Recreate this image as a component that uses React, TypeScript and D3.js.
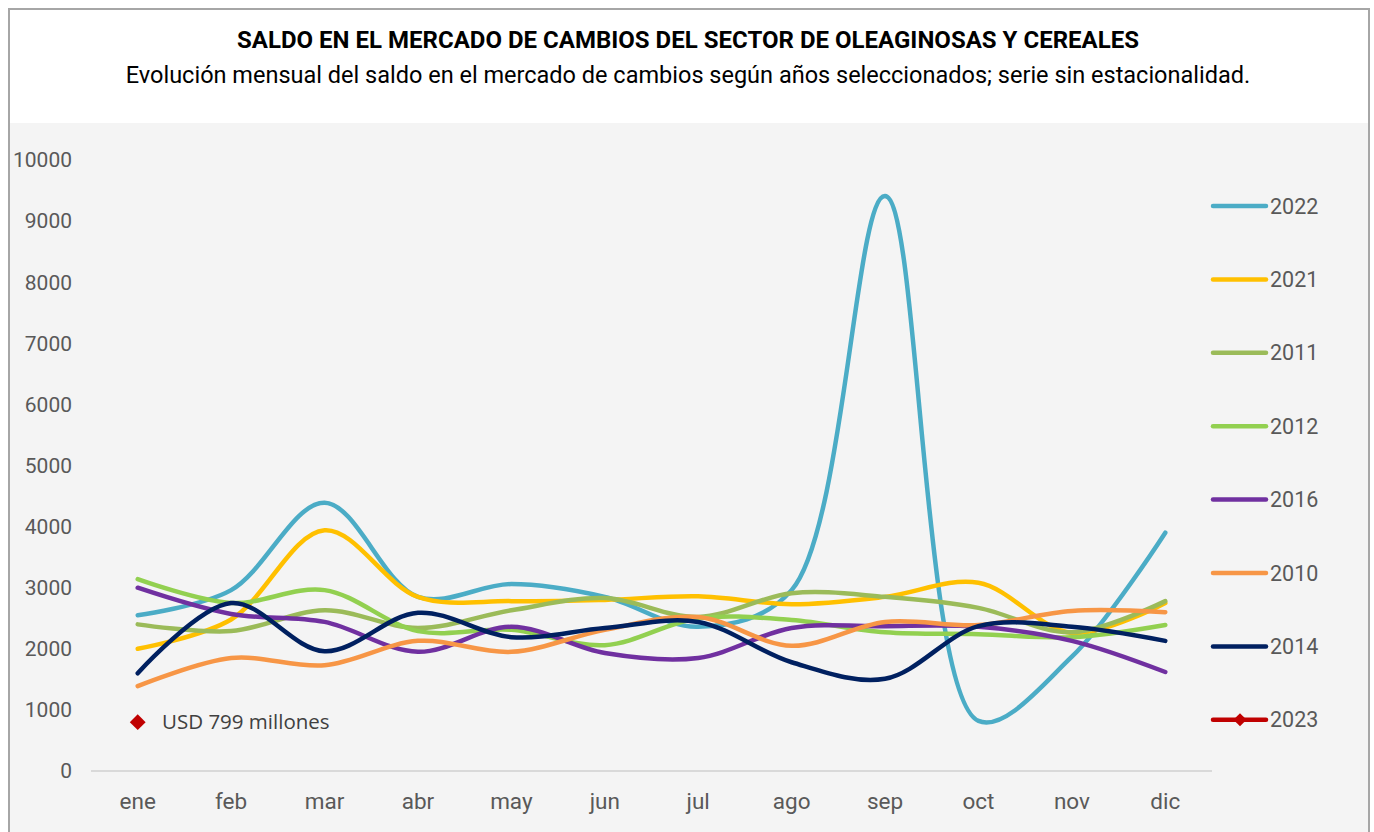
import * as d3 from "d3";
import { useEffect, useRef } from "react";

const W = 1374;
const H = 832;
const months = ["ene", "feb", "mar", "abr", "may", "jun", "jul", "ago", "sep", "oct", "nov", "dic"];
const yTicks = [0, 1000, 2000, 3000, 4000, 5000, 6000, 7000, 8000, 9000, 10000];

// monthly values, USD millones
const s2022 = [2550, 2960, 4390, 2850, 3060, 2850, 2360, 2960, 9410, 820, 1870, 3900];
const s2021 = [2000, 2480, 3940, 2850, 2780, 2800, 2860, 2730, 2850, 3080, 2260, 2750];
const s2011 = [2400, 2290, 2630, 2340, 2630, 2830, 2520, 2910, 2850, 2670, 2270, 2780];
const s2012 = [3140, 2750, 2960, 2290, 2310, 2060, 2500, 2470, 2270, 2240, 2190, 2390];
const s2016 = [3000, 2570, 2440, 1950, 2360, 1930, 1850, 2340, 2370, 2360, 2130, 1620];
const s2010 = [1390, 1850, 1730, 2130, 1950, 2310, 2520, 2050, 2440, 2390, 2620, 2600];
const s2014 = [1600, 2750, 1960, 2590, 2190, 2340, 2440, 1780, 1510, 2370, 2360, 2130];
const s2023 = [799];

const series = [
  { name: "2022", color: "#4bacc6", values: s2022 },
  { name: "2021", color: "#ffc000", values: s2021 },
  { name: "2011", color: "#9bbb59", values: s2011 },
  { name: "2012", color: "#92d050", values: s2012 },
  { name: "2016", color: "#7030a0", values: s2016 },
  { name: "2010", color: "#f79646", values: s2010 },
  { name: "2014", color: "#002060", values: s2014 },
  { name: "2023", color: "#c00000", values: s2023 },
];

const margin = { left: 91, right: 162, top: 160, bottom: 61 };

const App = () => {
  const svgRef = useRef<SVGSVGElement>(null);

  useEffect(() => {
    const svg = d3.select(svgRef.current);
    svg.selectAll("*").remove();
    const font = "Roboto, 'Open Sans', sans-serif";

    // frame
    svg.append("rect").attr("x", 0).attr("y", 0).attr("width", W).attr("height", H).attr("fill", "#ffffff");
    svg.append("rect").attr("x", 10).attr("y", 123).attr("width", 1358).attr("height", H - 123).attr("fill", "#f4f4f4");
    svg.append("path")
      .attr("d", `M9,${H} V9 H1369 V${H}`)
      .attr("fill", "none")
      .attr("stroke", "#a6a6a6")
      .attr("stroke-width", 2);

    svg.append("text")
      .attr("x", 688).attr("y", 48)
      .attr("text-anchor", "middle")
      .attr("font-family", font).attr("font-weight", "bold").attr("font-size", 24)
      .attr("textLength", 902)
      .attr("fill", "#000")
      .text("SALDO EN EL MERCADO DE CAMBIOS DEL SECTOR DE OLEAGINOSAS Y CEREALES");
    svg.append("text")
      .attr("x", 688).attr("y", 83)
      .attr("text-anchor", "middle")
      .attr("font-family", font).attr("font-size", 23.5)
      .attr("fill", "#000")
      .text("Evolución mensual del saldo en el mercado de cambios según años seleccionados; serie sin estacionalidad.");

    const x = d3.scaleBand().domain(months).range([margin.left, W - margin.right]);
    const y = d3.scaleLinear().domain([0, 10000]).range([H - margin.bottom, margin.top]);
    const cx = (i: number) => (x(months[i]) as number) + x.bandwidth() / 2;

    // y tick labels
    svg.append("g")
      .selectAll("text")
      .data(yTicks)
      .join("text")
      .attr("x", 72)
      .attr("y", (d) => y(d))
      .attr("dy", "0.35em")
      .attr("text-anchor", "end")
      .attr("font-family", font).attr("font-size", 21)
      .attr("fill", "#595959")
      .text((d) => d);

    // x axis
    svg.append("line")
      .attr("x1", margin.left).attr("x2", W - margin.right)
      .attr("y1", y(0)).attr("y2", y(0))
      .attr("stroke", "#d9d9d9").attr("stroke-width", 2);
    svg.append("g")
      .selectAll("text")
      .data(months)
      .join("text")
      .attr("x", (_d, i) => cx(i))
      .attr("y", 801)
      .attr("dy", "0.35em")
      .attr("text-anchor", "middle")
      .attr("font-family", font).attr("font-size", 22.5)
      .attr("fill", "#595959")
      .text((d) => d);

    const line = d3.line<number>()
      .x((_d, i) => cx(i))
      .y((d) => y(d))
      .curve(d3.curveCatmullRom.alpha(0.5));

    const drawOrder = ["2022", "2021", "2011", "2012", "2016", "2010", "2014"];
    drawOrder.forEach((name) => {
      const s = series.find((d) => d.name === name)!;
      svg.append("path")
        .attr("d", line(s.values))
        .attr("fill", "none")
        .attr("stroke", s.color)
        .attr("stroke-width", 4.5)
        .attr("stroke-linecap", "round");
    });

    // 2023 point
    const red = series[7];
    svg.append("path")
      .attr("d", d3.symbol().type(d3.symbolDiamond2).size(160)())
      .attr("transform", `translate(${cx(0)},${y(red.values[0])})`)
      .attr("fill", red.color);
    svg.append("text")
      .attr("x", 162).attr("y", y(red.values[0]))
      .attr("dy", "0.35em")
      .attr("font-family", "'Open Sans', sans-serif").attr("font-size", 20.5)
      .attr("fill", "#404040")
      .text(`USD ${red.values[0]} millones`);

    // legend
    const lg = svg.append("g")
      .selectAll("g")
      .data(series)
      .join("g")
      .attr("transform", (_d, i) => `translate(1213,${206 + i * 73.4})`);
    lg.append("line")
      .attr("x1", 0).attr("x2", 53)
      .attr("stroke", (d) => d.color)
      .attr("stroke-width", 4.5)
      .attr("stroke-linecap", "round");
    lg.filter((d) => d.name === "2023")
      .append("path")
      .attr("d", d3.symbol().type(d3.symbolDiamond2).size(110)())
      .attr("transform", "translate(27,0)")
      .attr("fill", (d) => d.color);
    lg.append("text")
      .attr("x", 57)
      .attr("dy", "0.35em")
      .attr("font-family", font).attr("font-size", 21.5)
      .attr("fill", "#595959")
      .text((d) => d.name);
  }, []);

  return (
    <svg
      ref={svgRef}
      width={W}
      height={H}
      style={{ position: "absolute", left: 0, top: 0, display: "block" }}
    />
  );
};

export default App;
